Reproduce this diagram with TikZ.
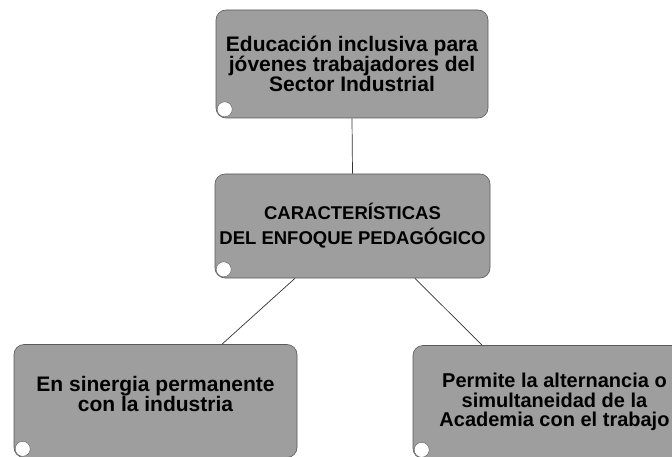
\documentclass[tikz,border=0pt]{standalone}
\usepackage{fontspec}
\setmainfont{Liberation Sans}

\begin{document}
\begin{tikzpicture}[x=1pt, y=-1pt,
    caja/.style={draw=black!65, line width=0.6pt, fill=black!38,
                 rounded corners=10pt, align=center, inner sep=0pt,
                 font=\fontsize{21}{20}\selectfont\bfseries},
    linea/.style={-, black!80, line width=0.7pt}]
    \clip (0,0) rectangle (672,457);

    \node [caja, minimum width=272pt, minimum height=108pt] (educ) at (352,64)
      {Educación inclusiva para \\ jóvenes trabajadores del \\ Sector Industrial};
    \node [caja, minimum width=275pt, minimum height=104pt,
           font=\fontsize{18.5}{25}\selectfont\bfseries] (carac) at (352.5,226)
      {CARACTERÍSTICAS \\ DEL ENFOQUE PEDAGÓGICO};
    \node [caja, minimum width=283pt, minimum height=113pt,
           text depth=14pt] (sinergia) at (155.5,401)
      {En sinergia permanente \\ con la industria};
    \node [caja, minimum width=283pt, minimum height=113pt,
           font=\fontsize{20}{19.5}\selectfont\bfseries] (alterna) at (554.5,402)
      {Permite la alternancia o \\ simultaneidad de la \\ Academia con el trabajo};

    \foreach \n in {educ,carac,sinergia,alterna}
      \draw [black!65, fill=white] ([shift={(9pt,9pt)}]\n.south west) circle (7.5pt);

    \draw [linea] (educ.south) -- (carac.north);
    \draw [linea] ([xshift=-57.5pt]carac.south) -- ([xshift=66.5pt]sinergia.north);
    \draw [linea] ([xshift=62.5pt]carac.south) -- ([xshift=-72.5pt]alterna.north);
\end{tikzpicture}
\end{document}
